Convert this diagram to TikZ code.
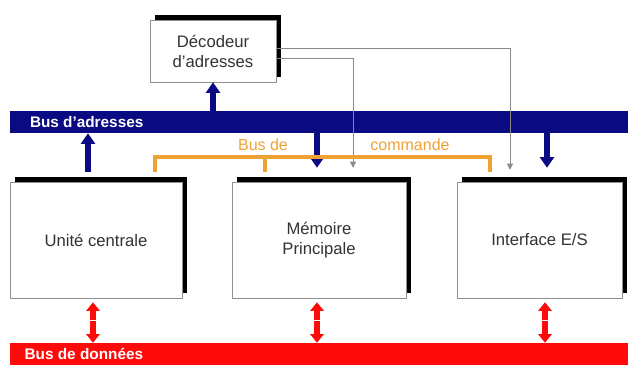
\documentclass[tikz,border=0pt]{standalone}
\usepackage{fontspec}
\setmainfont{Liberation Sans}
\usetikzlibrary{arrows.meta,shadows,calc}
\definecolor{Navy}{HTML}{0A0A82}
\definecolor{BusRed}{HTML}{FF0A0A}
\definecolor{Orange}{HTML}{EFA234}
\definecolor{Wire}{HTML}{8A8A8A}
\definecolor{Ink}{HTML}{333333}
\definecolor{Frame}{HTML}{909090}

\begin{document}
\begin{tikzpicture}[x=.75pt,y=-.75pt,
unit/.style={draw=Frame,fill=white,align=center,text=Ink,inner sep=0pt,font=\fontsize{12.5}{15}\selectfont,
  drop shadow={shadow xshift=3.75pt,shadow yshift=3.75pt,fill=black,opacity=1}},
bus/.style={inner sep=0pt,minimum width=463.5pt,minimum height=16.5pt},
buslab/.style={anchor=west,text=white,inner sep=0pt,font=\fontsize{11.5}{13}\selectfont\bfseries},
addr/.style={-{Triangle[length=8pt,width=10.5pt]},draw=Navy,line width=4.5pt},
dat/.style={-{Triangle[length=6.5pt,width=10pt]},draw=BusRed,line width=4pt},
cmd/.style={draw=Orange,line width=3pt},
ctl/.style={-{Triangle[length=4.5pt,width=4.5pt]},draw=Wire,line width=.6pt},
cmdlab/.style={text=Orange,font=\fontsize{12}{14}\selectfont}]
\useasboundingbox (0,0) rectangle (628,365);
% blocs
\node[unit,minimum width=94.5pt,minimum height=46.5pt] (dec) at (213,51) {Décodeur\\d’adresses};
\node[unit,minimum width=129pt,minimum height=87pt] (uc) at (96,240) {Unité centrale};
\node[unit,minimum width=130.5pt,minimum height=87pt] (mem) at (319,240) {Mémoire\\Principale};
\node[unit,minimum width=123.75pt,minimum height=87pt] (io) at (539.5,240) {Interface E/S};
% bus
\node[bus,fill=Navy] (abus) at (319,122) {};
\node[bus,fill=BusRed] (dbus) at (319,354) {};
\node[buslab] (abuslab) at ([xshift=15pt]abus.west) {Bus d’adresses};
\node[buslab] (dbuslab) at ([xshift=11pt]dbus.west) {Bus de données};
% abscisses des liaisons
\coordinate (xu) at (88,0);
\coordinate (xd) at (213,0);
\coordinate (xm) at (317,0);
\coordinate (xi) at (547,0);
\coordinate (gm) at (353,0);
\coordinate (gi) at (510,0);
\coordinate (ru) at (93,0);
\coordinate (rm) at (317,0);
\coordinate (ri) at (545,0);
\coordinate (ou) at (155,0);
\coordinate (om) at (265,0);
\coordinate (oi) at (490,0);
\coordinate (oy) at (0,157);
% bus d'adresses
\draw[addr,shorten <=7.5pt] (uc.north -| xu) -- (abus.south -| xu);
\draw[addr] (abus.north -| xd) -- (dec.south -| xd);
\draw[addr,shorten >=10.5pt] (abus.south -| xm) -- (mem.north -| xm);
\draw[addr,shorten >=10.5pt] (abus.south -| xi) -- (io.north -| xi);
% sorties du decodeur
\draw[ctl,shorten >=9pt] ([yshift=2.25pt]dec.east) -| (io.north -| gi);
\draw[ctl,shorten >=10.5pt] ([yshift=-5.25pt]dec.east) -| (mem.north -| gm);
% bus de commande
\draw[cmd,shorten <=7.5pt,shorten >=7.5pt] (uc.north -| ou) -- (ou |- oy) -- (oi |- oy) -- (io.north -| oi);
\draw[cmd,shorten >=7.5pt] (om |- oy) -- (mem.north -| om);
\node[cmdlab] (cmdl1) at (263,145) {Bus de};
\node[cmdlab] (cmdl2) at (410,145) {commande};
% bus de donnees
\coordinate (mu) at ($(uc.south -| ru)!.5!(dbus.north -| ru)$);
\coordinate (mm) at ($(mem.south -| rm)!.5!(dbus.north -| rm)$);
\coordinate (mi) at ($(io.south -| ri)!.5!(dbus.north -| ri)$);
\draw[dat,shorten <=.6pt,shorten >=3pt] (mu) -- (uc.south -| ru);
\draw[dat,shorten <=.6pt] (mu) -- (dbus.north -| ru);
\draw[dat,shorten <=.6pt,shorten >=3pt] (mm) -- (mem.south -| rm);
\draw[dat,shorten <=.6pt] (mm) -- (dbus.north -| rm);
\draw[dat,shorten <=.6pt,shorten >=3pt] (mi) -- (io.south -| ri);
\draw[dat,shorten <=.6pt] (mi) -- (dbus.north -| ri);
\end{tikzpicture}
\end{document}
